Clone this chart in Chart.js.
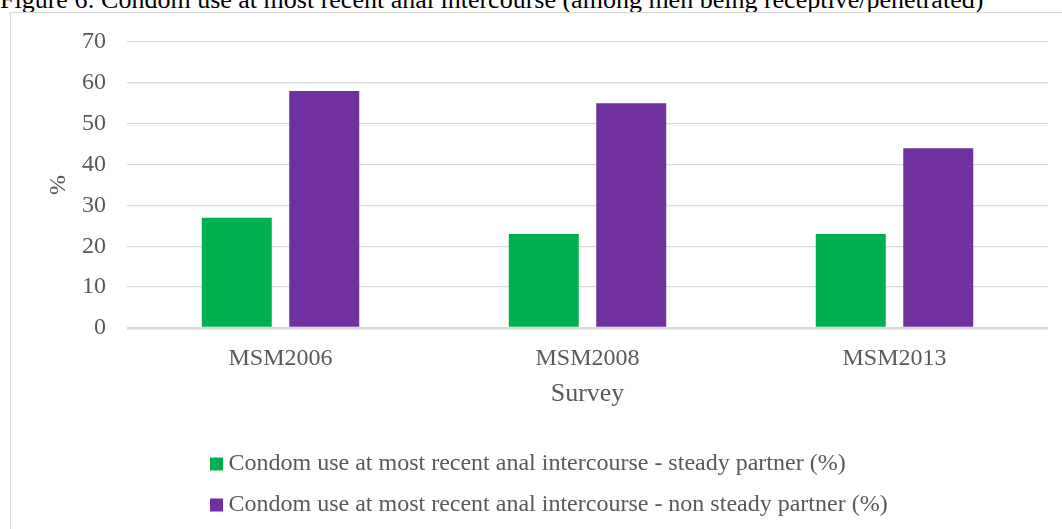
<!DOCTYPE html>
<html>
<head>
<meta charset="utf-8">
<script src="https://cdn.jsdelivr.net/npm/chart.js@4.4.1/dist/chart.umd.min.js"></script>
<style>
  html, body { margin: 0; padding: 0; background: #fff; overflow: hidden; }
  body { width: 1062px; height: 529px; position: relative; }
  .titulo {
    position: absolute; left: 0; top: -13px; white-space: nowrap;
    font-family: "Liberation Serif", serif; font-size: 26px; line-height: 26px; color: #000;
  }
  .marco {
    position: absolute; left: 10px; top: 12px; width: 1070px; height: 530px;
    border: 1px solid #d9d9d9; box-sizing: border-box;
  }
  #grafica { position: absolute; left: 0; top: 0; }
</style>
</head>
<body>
<div class="titulo">Figure 6: Condom use at most recent anal intercourse (among men being receptive/penetrated)</div>
<div class="marco"></div>
<canvas id="grafica" width="1062" height="529"></canvas>
<script>
const encuestas = ["MSM2006", "MSM2008", "MSM2013"];
const parejaEstable = [27, 23, 23];
const parejaNoEstable = [58, 55, 44];
const etiquetas = [
    "Condom use at most recent anal intercourse - steady partner (%)",
    "Condom use at most recent anal intercourse - non steady partner (%)"
];

const gris = "#595959";
const fuente = "'Liberation Serif', 'Times New Roman', serif";

// mueve la leyenda para que quede alineada a la izquierda como en la figura
const moverLeyenda = {
    id: "moverLeyenda",
    afterLayout(chart) {
        if (chart.legend) chart.legend.left = 199.5;
    }
};

new Chart(document.getElementById("grafica"), {
    type: "bar",
    data: {
        labels: encuestas,
        datasets: [
            { label: etiquetas[0], data: parejaEstable, backgroundColor: "#00B050" },
            { label: etiquetas[1], data: parejaNoEstable, backgroundColor: "#7030A0" }
        ]
    },
    options: {
        responsive: false,
        animation: false,
        layout: { padding: { top: 42, right: 14, bottom: 2, left: 0 } },
        datasets: { bar: { categoryPercentage: 0.57, barPercentage: 0.8 } },
        scales: {
            x: {
                grid: { display: false, drawTicks: false },
                border: { display: false },
                ticks: { color: gris, padding: 16, font: { family: fuente, size: 24 } },
                title: { display: true, text: "Survey", color: gris, padding: { top: -10, bottom: 25 }, font: { family: fuente, size: 26 } }
            },
            y: {
                min: 0, max: 70,
                afterFit(scale) { scale.width = 127; },
                grid: {
                    drawTicks: false,
                    color: "#d9d9d9",
                    lineWidth: (ctx) => ctx.tick && ctx.tick.value === 0 ? 2.5 : 1.3
                },
                border: { display: false },
                ticks: { stepSize: 10, color: gris, padding: 21, font: { family: fuente, size: 24 } },
                title: { display: true, text: "%", color: gris, padding: { top: 44, bottom: 0 }, font: { family: fuente, size: 24 } }
            }
        },
        plugins: {
            legend: {
                position: "bottom",
                align: "start",
                labels: {
                    usePointStyle: true, pointStyle: "rect",
                    boxWidth: 0.01, boxHeight: 13, padding: 17,
                    color: gris, font: { family: fuente, size: 24 }
                }
            },
            tooltip: { enabled: false }
        }
    },
    plugins: [moverLeyenda]
});
</script>
</body>
</html>
